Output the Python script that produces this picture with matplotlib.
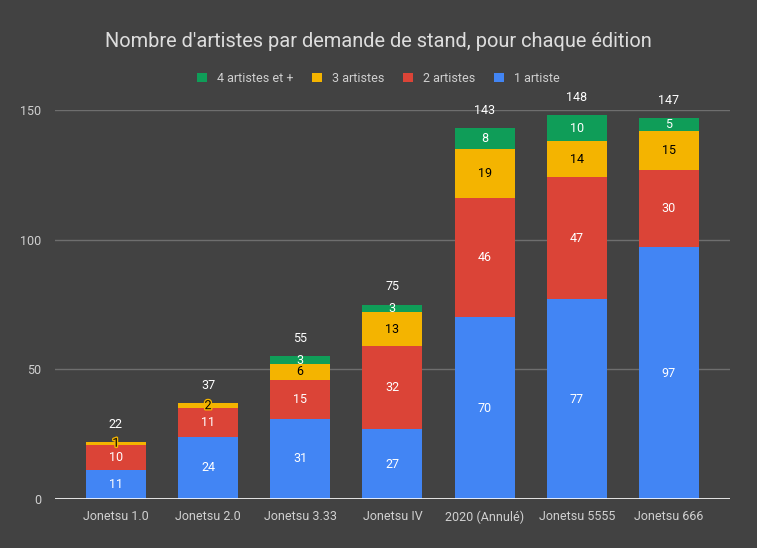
import matplotlib
matplotlib.use("Agg")
import matplotlib.pyplot as plt
import matplotlib.patheffects as pe
import numpy as np

categories = ["Jonetsu 1.0", "Jonetsu 2.0", "Jonetsu 3.33", "Jonetsu IV", "2020 (Annulé)", "Jonetsu 5555", "Jonetsu 666"]
un_artiste = [11, 24, 31, 27, 70, 77, 97]
deux_artistes = [10, 11, 15, 32, 46, 47, 30]
trois_artistes = [1, 2, 6, 13, 19, 14, 15]
quatre_plus = [0, 0, 3, 3, 8, 10, 5]
series_names = ["1 artiste", "2 artistes", "3 artistes", "4 artistes et +"]
colors = ["#4285F4", "#DB4437", "#F4B400", "#0F9D58"]
label_colors = ["white", "white", "black", "white"]

plt.rcParams['font.family'] = ['Roboto', 'DejaVu Sans']
bg = "#424242"
fig = plt.figure(figsize=(7.57, 5.48), dpi=100, facecolor=bg)
ax = fig.add_axes([0.0727, 0.0894, 0.8913, 0.7098])
ax.set_facecolor(bg)

x = np.arange(len(categories))
series = [un_artiste, deux_artistes, trois_artistes, quatre_plus]
bottom = np.zeros(len(categories))
handles = []
for vals, name, c, lc in zip(series, series_names, colors, label_colors):
    vals = np.array(vals, dtype=float)
    b = ax.bar(x, vals, 0.65, bottom=bottom, color=c, label=name, zorder=3)
    handles.append(b)
    for xi, v, bt in zip(x, vals, bottom):
        if v <= 0:
            continue
        t = ax.text(xi, bt + v / 2, f"{int(v)}", ha="center", va="center",
                    color=lc, fontsize=9, zorder=4)
        if v < 3:
            t.set_path_effects([pe.withStroke(linewidth=2, foreground=c)])
    bottom += vals

for xi, tot in zip(x, bottom):
    ax.annotate(f"{int(tot)}", (xi, tot), xytext=(0, 8), textcoords="offset points",
                ha="center", va="bottom", color="white", fontsize=9, clip_on=False)

ax.set_xlim(-0.66, 6.66)
ax.set_ylim(0, 150)
ax.set_yticks([0, 50, 100, 150])
ax.set_xticks(x)
ax.set_xticklabels(categories)
ax.tick_params(colors="#d0d0d0", labelsize=9, length=0, pad=8)
ax.tick_params(axis="y", pad=10)
ax.grid(axis="y", color="#6e6e6e", linewidth=1, zorder=0)
for s in ax.spines.values():
    s.set_visible(False)
ax.axhline(0, color="white", linewidth=1.2, zorder=5)

fig.text(0.5, 0.925, "Nombre d'artistes par demande de stand, pour chaque édition",
         ha="center", va="center", color="#dddddd", fontsize=14.4)

leg = fig.legend(handles[::-1], series_names[::-1], loc="center", bbox_to_anchor=(0.5, 0.857),
                 ncol=4, frameon=False, fontsize=9, labelcolor="#d0d0d0",
                 handlelength=0.8, handleheight=0.8, columnspacing=1.5, handletextpad=0.8)

fig.savefig("out.png", dpi=100, facecolor=bg)
